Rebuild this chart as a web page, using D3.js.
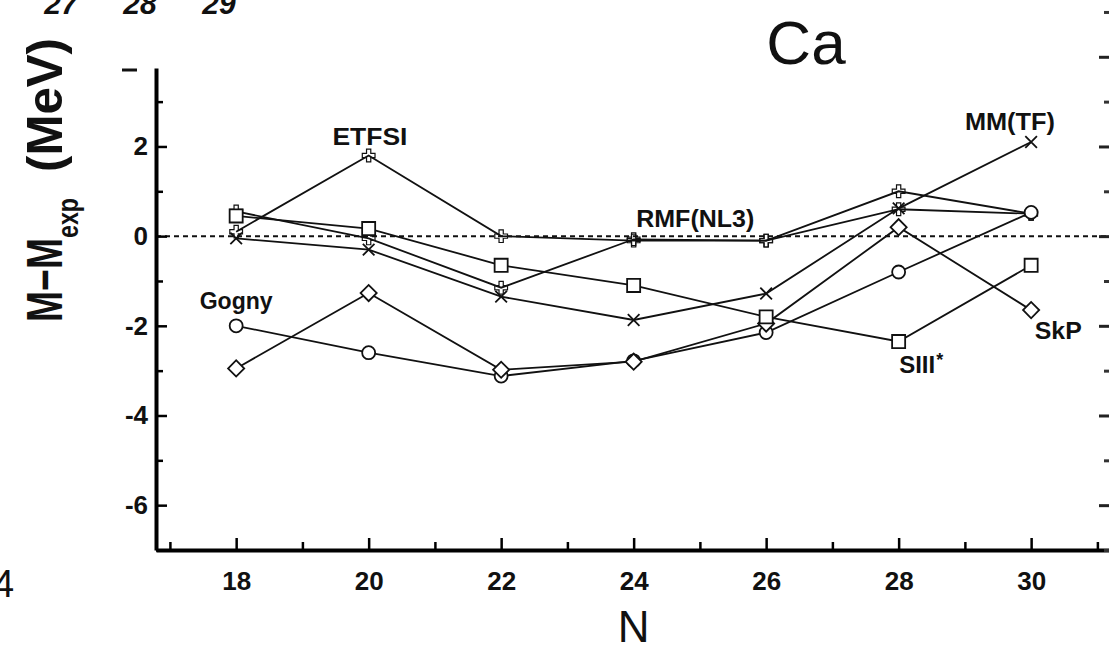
<!DOCTYPE html>
<html><head><meta charset="utf-8">
<script src="https://cdn.jsdelivr.net/npm/d3@7"></script>
<style>
body{margin:0;background:#fff;}
svg{display:block;}
text{font-family:"Liberation Sans",Arial,sans-serif;fill:#111;}
</style></head><body>
<svg id="c" width="1109" height="650"></svg>
<script>
// ---- data ----
const N = [18, 20, 22, 24, 26, 28, 30];
const etfsi = [0.1, 1.8, 0.0, -0.1, -0.1, 1.0, 0.5];
const rmf   = [0.55, -0.05, -1.15, -0.07, -0.1, 0.6, 0.5];
const mmtf  = [-0.05, -0.3, -1.35, -1.87, -1.28, 0.62, 2.1];
const gogny = [-2.0, -2.6, -3.12, -2.78, -2.15, -0.8, 0.53];
const skp   = [-2.95, -1.27, -2.98, -2.8, -1.95, 0.2, -1.65];
const siii  = [0.45, 0.17, -0.65, -1.1, -1.8, -2.35, -0.65];
const xMajor = [18, 20, 22, 24, 26, 28, 30];
const xMinor = [17, 19, 21, 23, 25, 27, 29, 31];
const yMajor = [-6, -4, -2, 0, 2];
const yMinor = [-7, -5, -3, -1, 1, 3];
const rightMajor = [-6, -4, -2, 0, 2, 4];
const rightMinor = [-7, -5, -3, -1, 1, 3, 5];
const topLabels = [26, 27, 28, 29];
const labelNames = ["ETFSI", "MM(TF)", "RMF(NL3)", "Gogny", "SkP", "SIII"];
const labelN = [20.02, 29.68, 24.93, 18.0, 30.41, 28.28];
const labelV = [2.23, 2.57, 0.40, -1.43, -2.1, -2.85];

const series = [
  {name:"ETFSI", v:etfsi, m:"plus"},
  {name:"RMF", v:rmf, m:"plus"},
  {name:"MM", v:mmtf, m:"cross"},
  {name:"Gogny", v:gogny, m:"circle"},
  {name:"SkP", v:skp, m:"diamond"},
  {name:"SIII", v:siii, m:"square"}
];

const svg = d3.select("#c");
const x = d3.scaleLinear().domain([16.79, 31.5]).range([156, 1130.5]);
const y = d3.scaleLinear().domain([-7, 3.75]).range([550, 68]);
// axis of the neighbouring (cropped) panel above
const xTop = d3.scaleLinear().domain([26, 29]).range([-18, 219]);

// zero line
svg.append("line")
  .attr("x1", x(16.79)).attr("x2", x(31.5))
  .attr("y1", y(0)).attr("y2", y(0))
  .attr("stroke", "#111").attr("stroke-width", 2).attr("stroke-dasharray", "5,4");

// axes
function styleAxis(g, w){
  g.select(".domain").attr("stroke", "#000").attr("stroke-width", w);
  g.selectAll(".tick line").attr("stroke", "#000").attr("stroke-width", 2.5);
}
const gx = svg.append("g").attr("transform", `translate(0,${y(-7)})`)
  .call(d3.axisBottom(x).tickValues(xMajor).tickSize(-12).tickSizeOuter(0).tickPadding(22).tickFormat(d3.format("d")));
styleAxis(gx, 4);
gx.selectAll("text").attr("font-size", 26).attr("font-weight", "bold").attr("fill", "#111");
const gx2 = svg.append("g").attr("transform", `translate(0,${y(-7)})`)
  .call(d3.axisBottom(x).tickValues(xMinor).tickSize(-8).tickFormat(""));
gx2.select(".domain").remove();
gx2.selectAll(".tick line").attr("stroke", "#000").attr("stroke-width", 2.5);

const gy = svg.append("g").attr("transform", `translate(${x(16.79)},0)`)
  .call(d3.axisLeft(y).tickValues(yMajor).tickSize(-11).tickSizeOuter(0).tickPadding(8).tickFormat(d3.format("d")));
styleAxis(gy, 4);
gy.selectAll("text").attr("font-size", 26).attr("font-weight", "bold").attr("fill", "#111")
  .text(d => d < 0 ? "-" + Math.abs(d) : String(d));
const gy2 = svg.append("g").attr("transform", `translate(${x(16.79)},0)`)
  .call(d3.axisLeft(y).tickValues(yMinor).tickSize(-7).tickFormat(""));
gy2.select(".domain").remove();
gy2.selectAll(".tick line").attr("stroke", "#000").attr("stroke-width", 2.5);

// right-hand ticks (neighbouring frame, cropped)
const gr = svg.append("g").attr("transform", "translate(1110,0)")
  .call(d3.axisLeft(y).tickValues(rightMajor).tickSize(11).tickFormat(""));
gr.select(".domain").remove();
gr.selectAll(".tick line").attr("stroke", "#222").attr("stroke-width", 3);
const gr2 = svg.append("g").attr("transform", "translate(1110,0)")
  .call(d3.axisLeft(y).tickValues(rightMinor).tickSize(6).tickFormat(""));
gr2.select(".domain").remove();
gr2.selectAll(".tick line").attr("stroke", "#333").attr("stroke-width", 3);

// lines
const line = d3.line().x((d, i) => x(N[i])).y(d => y(d));
svg.append("g").selectAll("path").data(series).join("path")
  .attr("d", s => line(s.v))
  .attr("fill", "none").attr("stroke", "#111").attr("stroke-width", 1.8);

// markers
const mg = svg.append("g");
series.forEach(s => {
  s.v.forEach((v, i) => {
    const cx = x(N[i]), cy = y(v);
    const g = mg.append("g").attr("transform", `translate(${cx},${cy})`);
    if (s.m === "circle") {
      g.append("circle").attr("r", 6.5).attr("fill", "#fff").attr("stroke", "#111").attr("stroke-width", 1.8);
    } else if (s.m === "square") {
      g.append("path").attr("d", d3.symbol(d3.symbolSquare, 170)())
        .attr("fill", "#fff").attr("stroke", "#111").attr("stroke-width", 1.8);
    } else if (s.m === "diamond") {
      g.append("path").attr("d", d3.symbol(d3.symbolSquare, 130)()).attr("transform", "rotate(45)")
        .attr("fill", "#fff").attr("stroke", "#111").attr("stroke-width", 1.8);
    } else if (s.m === "plus") {
      g.append("path").attr("d", d3.symbol(d3.symbolCross, 90)()).attr("fill", "none")
        .attr("stroke", "#111").attr("stroke-width", 1.2);
    } else if (s.m === "cross") {
      g.append("path").attr("d", d3.symbol(d3.symbolX, 90)()).attr("fill", "none")
        .attr("stroke", "#111").attr("stroke-width", 1.8);
    }
  });
});

// series labels
const widths = [75, 90, 118, 73, 47, 36];
labelNames.forEach((t, i) => {
  svg.append("text")
    .attr("x", x(labelN[i])).attr("y", y(labelV[i])).attr("dy", "0.36em")
    .attr("text-anchor", "middle").attr("font-size", 24).attr("font-weight", "bold")
    .attr("textLength", widths[i]).attr("lengthAdjust", "spacingAndGlyphs")
    .text(t);
  if (t === "SIII") {
    svg.append("text").attr("x", x(labelN[i]) + 19).attr("y", y(labelV[i]) + 2)
      .attr("font-size", 18).attr("font-weight", "bold").text("*");
  }
});

// titles
svg.append("text").attr("x", 806).attr("y", 64).attr("text-anchor", "middle")
  .attr("font-size", 62).text("Ca");
svg.append("text").attr("x", x(24)).attr("y", 642).attr("text-anchor", "middle")
  .attr("font-size", 44).text("N");

// y label
svg.append("text").attr("transform", "translate(62,322) rotate(-90)")
  .attr("font-size", 50).attr("font-weight", "bold")
  .attr("textLength", 84).attr("lengthAdjust", "spacingAndGlyphs").text("M\u2212M");
svg.append("text").attr("transform", "translate(78,238) rotate(-90)")
  .attr("font-size", 30).attr("font-weight", "bold")
  .attr("textLength", 40).attr("lengthAdjust", "spacingAndGlyphs").text("exp");
svg.append("text").attr("transform", "translate(62,172) rotate(-90)")
  .attr("font-size", 50).attr("font-weight", "bold")
  .attr("textLength", 134).attr("lengthAdjust", "spacingAndGlyphs").text("(MeV)");

// cropped neighbour fragments
svg.append("text").attr("x", -7).attr("y", 597).attr("font-family", "Liberation Serif")
  .attr("font-size", 38).text("4");
topLabels.forEach(t => {
  svg.append("text").attr("x", xTop(t)).attr("y", 14).attr("text-anchor", "middle")
    .attr("font-size", 30).attr("font-weight", "bold").attr("font-style", "italic").text(String(t));
});
svg.append("line").attr("x1", 122).attr("x2", 137).attr("y1", 70).attr("y2", 70)
  .attr("stroke", "#111").attr("stroke-width", 3);
</script>
</body></html>
